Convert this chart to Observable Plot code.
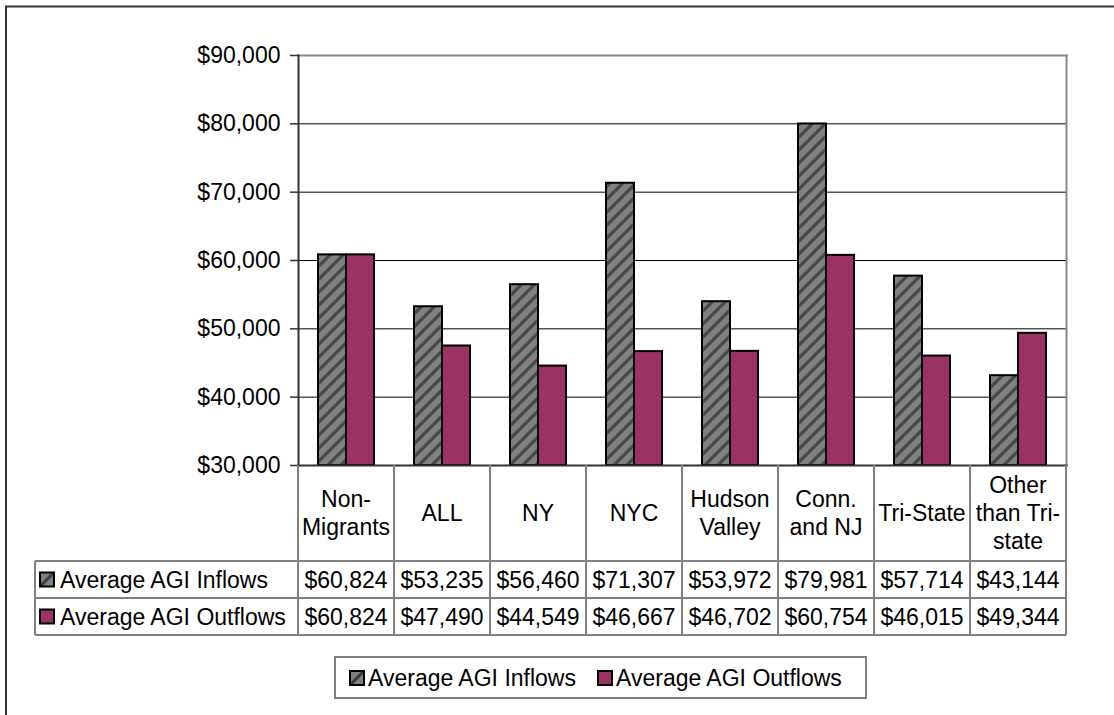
<!DOCTYPE html>
<html>
<head>
<meta charset="utf-8">
<script src="https://cdn.jsdelivr.net/npm/d3@7"></script>
<script src="https://cdn.jsdelivr.net/npm/@observablehq/plot@0.6"></script>
<style>
  html, body { margin: 0; padding: 0; background: #fff; }
  #chart svg { display: block; }
</style>
</head>
<body>
<div id="chart"></div>
<script>
// ---- data ----
const categories = ["Non-Migrants", "ALL", "NY", "NYC", "Hudson Valley", "Conn. and NJ", "Tri-State", "Other than Tri-state"];
const headerLines = [["Non-", "Migrants"], ["ALL"], ["NY"], ["NYC"], ["Hudson", "Valley"], ["Conn.", "and NJ"], ["Tri-State"], ["Other", "than Tri-", "state"]];
const inflows = [60824, 53235, 56460, 71307, 53972, 79981, 57714, 43144];
const outflows = [60824, 47490, 44549, 46667, 46702, 60754, 46015, 49344];
const seriesNames = ["Average AGI Inflows", "Average AGI Outflows"];
const yTicks = [30000, 40000, 50000, 60000, 70000, 80000, 90000];

// ---- styles ----
const FONT = "'Liberation Sans', Arial, sans-serif";
const FS = 23;
const INFLOW_FILL = "url(#hatchInflow)";
const OUTFLOW_FILL = "#993366";
const money = d => "$" + d3.format(",")(d);

const rows = categories.map((c, i) => ({cat: c, inflow: inflows[i], outflow: outflows[i]}));

const chart = Plot.plot({
  width: 1114,
  height: 715,
  marginLeft: 298,
  marginRight: 48,
  marginTop: 55,
  marginBottom: 250,
  style: {fontFamily: FONT, fontSize: FS + "px", background: "#fff", color: "#000", overflow: "visible"},
  x: {domain: categories, padding: 0, axis: null},
  y: {domain: [30000, 90000], axis: null},
  marks: [
    Plot.gridY(yTicks.slice(1, -1), {stroke: "#000", strokeOpacity: 1, strokeWidth: 1}),
    Plot.frame({anchor: "top", stroke: "#888", strokeWidth: 2}),
    Plot.frame({anchor: "right", stroke: "#888", strokeWidth: 2}),
    Plot.barY(rows, {x: "cat", y1: 30000, y2: "inflow", fill: INFLOW_FILL, stroke: "#000", strokeWidth: 2, insetLeft: 20, insetRight: 48}),
    Plot.barY(rows, {x: "cat", y1: 30000, y2: "outflow", fill: OUTFLOW_FILL, stroke: "#000", strokeWidth: 2, insetLeft: 48, insetRight: 20}),
    Plot.frame({anchor: "left", stroke: "#333", strokeWidth: 2}),
    Plot.frame({anchor: "bottom", stroke: "#333", strokeWidth: 2}),
    Plot.axisY({ticks: yTicks, tickSize: 8, tickPadding: 10, tickFormat: money, fontSize: FS, stroke: "#333", strokeWidth: 1.5, fill: "#000"})
  ]
});

document.getElementById("chart").appendChild(chart);

const svg = d3.select(chart);
const xs = chart.scale("x");
const ys = chart.scale("y");
const bw = xs.bandwidth;
const x1 = xs.range[1];
const yBottom = ys.range[0];

// hatch pattern
const defs = svg.insert("defs", ":first-child");
const pat = defs.append("pattern")
  .attr("id", "hatchInflow")
  .attr("patternUnits", "userSpaceOnUse")
  .attr("width", 13).attr("height", 13);
pat.append("rect").attr("width", 13).attr("height", 13).attr("fill", "#808080");
pat.append("path")
  .attr("d", "M-3,3 L3,-3 M0,13 L13,0 M10,16 L16,10")
  .attr("stroke", "#383838").attr("stroke-width", 3.2).attr("stroke-opacity", 0.8);

// legend symbol pattern
const pat2 = defs.append("pattern")
  .attr("id", "hatchLegend")
  .attr("patternUnits", "objectBoundingBox")
  .attr("width", 1).attr("height", 1);
pat2.append("rect").attr("width", 14).attr("height", 14).attr("fill", "#808080");
pat2.append("path").attr("d", "M0,14 L14,0").attr("stroke", "#3a3a3a").attr("stroke-width", 3);

const g = svg.append("g").attr("font-family", FONT).attr("font-size", FS).attr("fill", "#000").attr("text-anchor", "start");

// outer chart frame (clipped by window at right & bottom)
g.append("path").attr("d", `M6,715 L6,6.5 L1114,6.5`).attr("fill", "none").attr("stroke", "#333").attr("stroke-width", 2);

// ---- data table ----
const headerBottom = yBottom + 96;
const row1Bottom = headerBottom + 37;
const row2Bottom = row1Bottom + 37;
const tableLeft = 35;
const gridColor = "#808080";

const tl = g.append("g").attr("stroke", gridColor).attr("stroke-width", 2).attr("fill", "none");
const edges = categories.map(c => xs.apply(c)).concat([x1]);
edges.forEach(ex => {
  tl.append("line").attr("x1", ex).attr("x2", ex).attr("y1", yBottom).attr("y2", row2Bottom);
});
tl.append("line").attr("x1", tableLeft).attr("x2", tableLeft).attr("y1", headerBottom).attr("y2", row2Bottom);
[headerBottom, row1Bottom, row2Bottom].forEach(yy => {
  tl.append("line").attr("x1", tableLeft).attr("x2", x1).attr("y1", yy).attr("y2", yy);
});

// header labels
const lineH = 28;
const headerMid = (yBottom + headerBottom) / 2;
categories.forEach((c, i) => {
  const cx = xs.apply(c) + bw / 2;
  const lines = headerLines[i];
  const t = g.append("text").attr("text-anchor", "middle");
  lines.forEach((ln, k) => {
    const base = headerMid + (k - (lines.length - 1) / 2) * lineH + FS * 0.36;
    t.append("tspan").attr("x", cx).attr("y", base).text(ln);
  });
});

// value rows
const seriesValues = [inflows, outflows];
const seriesFills = ["url(#hatchLegend)", OUTFLOW_FILL];
const rowTops = [headerBottom, row1Bottom];
seriesNames.forEach((name, s) => {
  const mid = rowTops[s] + 18.5;
  g.append("rect").attr("x", 40).attr("y", mid - 7).attr("width", 14).attr("height", 14)
    .attr("fill", seriesFills[s]).attr("stroke", "#000").attr("stroke-width", 2);
  g.append("text").attr("text-anchor", "start").attr("x", 60).attr("y", mid + FS * 0.36).text(name);
  categories.forEach((c, i) => {
    g.append("text").attr("text-anchor", "middle")
      .attr("x", xs.apply(c) + bw / 2).attr("y", mid + FS * 0.36)
      .text(money(seriesValues[s][i]));
  });
});

// ---- legend ----
const lg = g.append("g");
lg.append("rect").attr("x", 335).attr("y", 657).attr("width", 531).attr("height", 41)
  .attr("fill", "#fff").attr("stroke", "#808080").attr("stroke-width", 2);
const legendItems = [{x: 350, fill: "url(#hatchLegend)"}, {x: 598, fill: OUTFLOW_FILL}];
legendItems.forEach((it, s) => {
  lg.append("rect").attr("x", it.x).attr("y", 671).attr("width", 14).attr("height", 14)
    .attr("fill", it.fill).attr("stroke", "#000").attr("stroke-width", 2);
  lg.append("text").attr("text-anchor", "start").attr("x", it.x + 18).attr("y", 677.5 + FS * 0.36).text(seriesNames[s]);
});
</script>
</body>
</html>
